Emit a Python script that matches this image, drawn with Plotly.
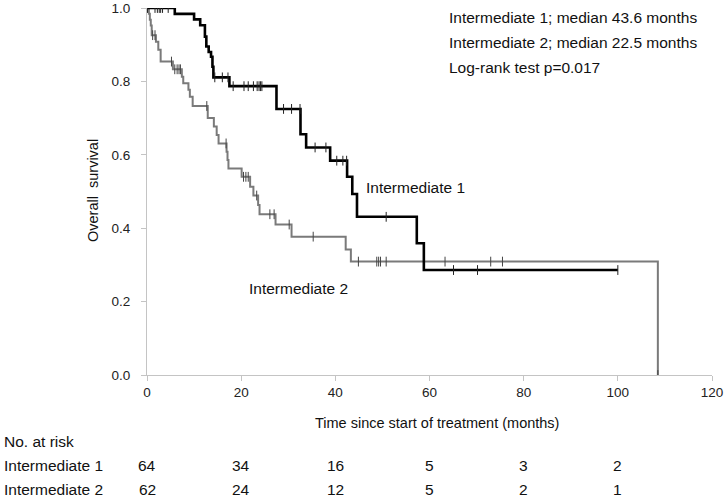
import plotly.graph_objects as go

# Intermediate 1: step times (months) and survival after each step
int1_times = [0, 5.9, 10.0, 11.3, 12.3, 12.6, 13.1, 13.6, 13.9, 14.1, 17.5, 27.5, 32.6, 33.8, 38.9, 42.5, 43.6, 44.6, 57.3, 58.8]
int1_surv = [1.0, 0.984, 0.969, 0.953, 0.922, 0.895, 0.880, 0.867, 0.840, 0.811, 0.787, 0.725, 0.656, 0.620, 0.584, 0.540, 0.493, 0.431, 0.359, 0.286]
int1_end = 100.0
int1_censor = [0.1, 1.7, 2.2, 2.6, 2.9, 3.3, 4.5, 14.4, 16.0, 17.2, 18.3, 20.6, 21.5, 22.6, 23.4, 23.8,
               24.1, 24.4, 29.0, 30.7, 32.5, 35.7, 38.0, 40.3, 41.6, 42.4, 50.8, 65.1, 70.2, 100.0]

# Intermediate 2
int2_times = [0, 0.4, 0.6, 0.8, 1.0, 1.9, 2.4, 2.9, 5.5, 7.4, 7.7, 8.8, 9.1, 9.7, 12.9, 14.2, 14.8, 15.2,
              16.9, 17.1, 17.3, 20.1, 21.9, 22.6, 23.6, 23.9, 27.3, 30.7, 42.2, 43.3, 108.5]
int2_surv = [1.0, 0.984, 0.968, 0.952, 0.926, 0.908, 0.886, 0.854, 0.833, 0.813, 0.795, 0.777, 0.758, 0.733,
             0.700, 0.677, 0.654, 0.631, 0.608, 0.586, 0.563, 0.540, 0.513, 0.489, 0.463, 0.438, 0.410,
             0.377, 0.342, 0.309, 0.0]
int2_censor = [1.2, 1.7, 5.2, 5.9, 6.4, 6.8, 7.1, 12.7, 16.8, 20.5, 21.0, 21.5, 23.3, 26.1, 27.0, 30.2,
               35.3, 44.9, 48.8, 49.2, 49.6, 50.8, 63.3, 73.0, 75.5, 108.5]

risk_times = [0, 20, 40, 60, 80, 100]
risk_int1 = [64, 34, 16, 5, 3, 2]
risk_int2 = [62, 24, 12, 5, 2, 1]
row_names = ["Intermediate 1", "Intermediate 2"]

x_ticks = [0, 20, 40, 60, 80, 100, 120]
y_ticks = [0.0, 0.2, 0.4, 0.6, 0.8, 1.0]

info_lines = ["Intermediate 1; median 43.6 months",
              "Intermediate 2; median 22.5 months",
              "Log-rank test p=0.017"]


def step_value(times, surv, t):
    v = surv[0]
    for ti, si in zip(times, surv):
        if ti <= t:
            v = si
    return v


FONT = "Liberation Sans, Arial, sans-serif"
TXT = "#111111"
ML, MT = 147.0, 8.0
PLOT_W = 565.0
PLOT_H = 367.0


def px_x(px):
    return (px - ML) / PLOT_W


def px_y(py):
    return (MT + PLOT_H - py) / PLOT_H


fig = go.Figure()

# Intermediate 2 (gray)
fig.add_trace(go.Scatter(x=int2_times, y=int2_surv, mode="lines", line_shape="hv",
                         line=dict(color="#7a7a7a", width=2), showlegend=False, hoverinfo="skip"))
fig.add_trace(go.Scatter(x=int2_censor, y=[step_value(int2_times, int2_surv, t) for t in int2_censor],
                         mode="markers", marker=dict(symbol="line-ns", size=7,
                                                     line=dict(color="#444444", width=1)),
                         showlegend=False))

# Intermediate 1 (black)
fig.add_trace(go.Scatter(x=int1_times + [int1_end], y=int1_surv + [int1_surv[-1]], mode="lines",
                         line_shape="hv", line=dict(color="#000000", width=2.6),
                         showlegend=False, hoverinfo="skip"))
fig.add_trace(go.Scatter(x=int1_censor, y=[step_value(int1_times, int1_surv, t) for t in int1_censor],
                         mode="markers", marker=dict(symbol="line-ns", size=7,
                                                     line=dict(color="#222222", width=1)),
                         showlegend=False))

annotations = []
for i, line in enumerate(info_lines):
    annotations.append(dict(x=63.7, y=0.973 - i * 0.067, xref="x", yref="y", text=line,
                            showarrow=False, xanchor="left", yanchor="middle",
                            font=dict(family=FONT, size=15.5, color=TXT)))
annotations.append(dict(x=46.1, y=0.512, xref="x", yref="y", text="Intermediate 1", showarrow=False,
                        xanchor="left", yanchor="middle", font=dict(family=FONT, size=15.5, color=TXT)))
annotations.append(dict(x=21.2, y=0.237, xref="x", yref="y", text="Intermediate 2", showarrow=False,
                        xanchor="left", yanchor="middle", font=dict(family=FONT, size=15.5, color=TXT)))

# Axis titles
annotations.append(dict(x=px_x(437), y=px_y(423), xref="paper", yref="paper",
                        text="Time since start of treatment (months)", showarrow=False,
                        xanchor="center", yanchor="middle", font=dict(family=FONT, size=14.5, color=TXT)))
annotations.append(dict(x=px_x(93), y=px_y(191), xref="paper", yref="paper",
                        text="Overall\u00a0 survival", showarrow=False, textangle=-90,
                        xanchor="center", yanchor="middle", font=dict(family=FONT, size=14.5, color=TXT)))

# Risk table
annotations.append(dict(x=px_x(2), y=px_y(442), xref="paper", yref="paper",
                        text="No. at risk", showarrow=False, xanchor="left", yanchor="middle",
                        font=dict(family=FONT, size=15.5, color=TXT)))
row_px = [465, 489]
for r, (name, vals) in enumerate(zip(row_names, [risk_int1, risk_int2])):
    ry = px_y(row_px[r])
    annotations.append(dict(x=px_x(2), y=ry, xref="paper", yref="paper", text=name,
                            showarrow=False, xanchor="left", yanchor="middle",
                            font=dict(family=FONT, size=15.5, color=TXT)))
    for t, v in zip(risk_times, vals):
        annotations.append(dict(x=t, y=ry, xref="x", yref="paper", text=str(v), showarrow=False,
                                xanchor="center", yanchor="middle",
                                font=dict(family=FONT, size=15.5, color=TXT)))

fig.update_layout(
    width=725, height=497,
    margin=dict(l=ML, r=725 - ML - PLOT_W, t=MT, b=497 - MT - PLOT_H, autoexpand=False),
    paper_bgcolor="white", plot_bgcolor="white",
    font=dict(family=FONT, size=13.5, color="#222222"),
    annotations=annotations,
    xaxis=dict(range=[0, 120], tickvals=x_ticks, ticktext=[str(v) for v in x_ticks],
               showgrid=False, zeroline=False, showline=True, linecolor="#c4c4c4", linewidth=1,
               ticks="outside", ticklen=5, tickcolor="#c4c4c4", automargin=False),
    yaxis=dict(range=[0, 1.0], tickvals=y_ticks, ticktext=["%.1f" % v for v in y_ticks],
               showgrid=False, zeroline=False, showline=True, linecolor="#c4c4c4", linewidth=1,
               ticks="outside", ticklen=5, tickcolor="#c4c4c4", automargin=False,
               ticklabelstandoff=8),
)

fig.write_html("out.html", config={"displayModeBar": False},
               post_script="document.body.style.margin='0';document.body.style.padding='0';")
